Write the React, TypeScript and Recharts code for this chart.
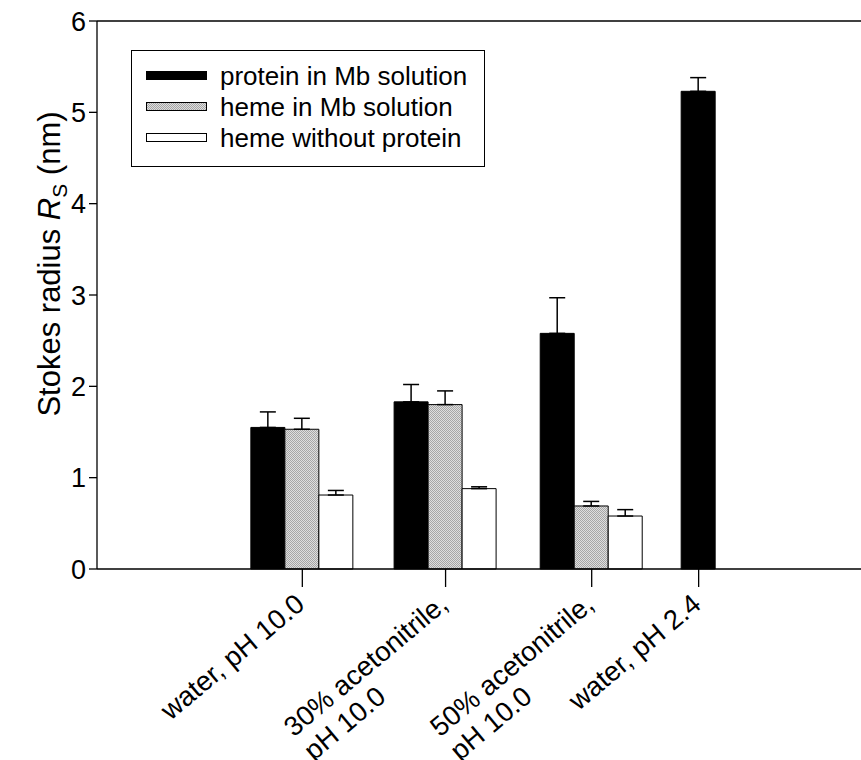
import React from "react";
import { BarChart, Bar, XAxis, YAxis, ErrorBar, Legend, ReferenceLine } from "recharts";

const categories = ["water, pH 10.0", "30% acetonitrile,\npH 10.0", "50% acetonitrile,\npH 10.0", "water, pH 2.4"];
// where each group sits along the x axis
const groupPos = [2.15, 3.65, 5.18, 6.3];

const protein = [1.55, 1.83, 2.58, null];
const proteinErr = [0.17, 0.19, 0.39, null];
const proteinAcid = [null, null, null, 5.23];
const proteinAcidErr = [null, null, null, 0.15];
const hemeMb = [1.53, 1.8, 0.69, null];
const hemeMbErr = [0.12, 0.15, 0.05, null];
const hemeFree = [0.81, 0.88, 0.58, null];
const hemeFreeErr = [0.05, 0.02, 0.07, null];

const yTicks = [0, 1, 2, 3, 4, 5, 6];

const legendKeys = ["protein", "hemeMb", "hemeFree"];
const seriesNames: Record<string, string> = {
  protein: "protein in Mb solution",
  hemeMb: "heme in Mb solution",
  hemeFree: "heme without protein",
};

const data = categories.map((c, i) => ({
  name: c,
  pos: groupPos[i],
  protein: protein[i],
  proteinErr: proteinErr[i] == null ? null : [0, proteinErr[i]],
  proteinAcid: proteinAcid[i],
  proteinAcidErr: proteinAcidErr[i] == null ? null : [0, proteinAcidErr[i]],
  hemeMb: hemeMb[i],
  hemeMbErr: hemeMbErr[i] == null ? null : [0, hemeMbErr[i]],
  hemeFree: hemeFree[i],
  hemeFreeErr: hemeFreeErr[i] == null ? null : [0, hemeFreeErr[i]],
}));

const FONT = "'Liberation Sans', Arial, sans-serif";
const XFS = 27.5;

let ctx: CanvasRenderingContext2D | null = null;
const textWidth = (s: string, size: number) => {
  if (!ctx) ctx = document.createElement("canvas").getContext("2d");
  if (!ctx) return s.length * size * 0.5;
  ctx.font = `${size}px 'Liberation Sans', Arial, sans-serif`;
  return ctx.measureText(s).width;
};

const Stipple = ({ id }: { id: string }) => (
  <pattern id={id} width="2" height="2" patternUnits="userSpaceOnUse">
    <rect width="2" height="2" fill="#dedede" />
    <rect x="0" y="0" width="1" height="1" fill="#a6a6a6" />
    <rect x="1" y="1" width="1" height="1" fill="#a6a6a6" />
  </pattern>
);

// rotated, left-aligned multi-line labels; first line ends under the tick
const XTick = (props: any) => {
  const { x, y, payload } = props;
  const idx = groupPos.indexOf(payload.value);
  const lines = (categories[idx] || "").split("\n");
  const w = textWidth(lines[0], XFS);
  return (
    <g transform={`translate(${x + 4},${y + 18}) rotate(-40)`}>
      {lines.map((l, i) => (
        <text key={i} x={-w} y={i * 31} fontSize={XFS} fontFamily={FONT} fill="#000">
          {l}
        </text>
      ))}
    </g>
  );
};

const swatch = (key: string) => {
  if (key === "protein") return <rect x={0.5} y={0.5} width={60} height={8} fill="#000" stroke="#000" />;
  if (key === "hemeMb")
    return (
      <>
        <defs>
          <Stipple id="stippleLegend" />
        </defs>
        <rect x={0.5} y={0.5} width={60} height={8} fill="url(#stippleLegend)" stroke="#000" />
      </>
    );
  return <rect x={0.5} y={0.5} width={60} height={8} fill="#fff" stroke="#000" />;
};

const LegendBox = () => (
  <div
    style={{
      boxSizing: "border-box",
      width: 354,
      height: 117,
      border: "1px solid #000",
      background: "#fff",
      padding: "9px 0 0 14px",
      fontFamily: FONT,
      fontSize: 26,
      lineHeight: 1,
    }}
  >
    {legendKeys.map((k) => (
      <div key={k} style={{ display: "flex", alignItems: "center", height: 31 }}>
        <svg width={61} height={9} style={{ marginRight: 13, flex: "none" }}>
          {swatch(k)}
        </svg>
        <span style={{ whiteSpace: "nowrap" }}>{seriesNames[k]}</span>
      </div>
    ))}
  </div>
);

const YLabel = () => (
  <text transform="translate(60,264) rotate(-90)" textAnchor="middle" fontSize={31} fontFamily={FONT} fill="#000">
    Stokes radius <tspan fontStyle="italic">R</tspan>
    <tspan fontSize={21} dy={7}>S</tspan>
    <tspan dy={-7}> (nm)</tspan>
  </text>
);

export default function App() {
  return (
    <div style={{ position: "absolute", left: 0, top: 0, width: 861, height: 760, background: "#fff", overflow: "hidden" }}>
      <BarChart width={861} height={760} data={data} margin={{ top: 21, right: 0, bottom: 0, left: 0 }} barGap={0}>
        <defs>
          <Stipple id="stipple" />
        </defs>
        <XAxis
          dataKey="pos"
          type="number"
          domain={[0, 8]}
          ticks={groupPos}
          interval={0}
          height={191}
          tickSize={18}
          tick={<XTick />}
          axisLine={{ stroke: "#000", strokeWidth: 1.3 }}
          tickLine={{ stroke: "#000", strokeWidth: 1.3 }}
        />
        <XAxis xAxisId="acid" dataKey="pos" type="number" domain={[0, 8]} hide />
        <YAxis
          domain={[0, 6]}
          ticks={yTicks}
          width={97}
          tickSize={8}
          tickMargin={3}
          tick={{ fill: "#000", fontSize: 27, fontFamily: FONT }}
          axisLine={{ stroke: "#000", strokeWidth: 1.3 }}
          tickLine={{ stroke: "#000", strokeWidth: 1.3 }}
          label={{ content: () => <YLabel /> }}
        />
        <ReferenceLine y={6} stroke="#000" strokeWidth={1.3} />
        <Legend
          layout="vertical"
          align="center"
          verticalAlign="middle"
          content={<LegendBox />}
          wrapperStyle={{ position: "absolute", left: 131, top: 50, width: "auto", height: "auto" }}
        />
        <Bar dataKey="protein" name={seriesNames.protein} fill="#000" stroke="#000" barSize={34} isAnimationActive={false}>
          <ErrorBar dataKey="proteinErr" width={8} stroke="#000" strokeWidth={1.5} direction="y" />
        </Bar>
        <Bar dataKey="hemeMb" name={seriesNames.hemeMb} fill="url(#stipple)" stroke="#000" barSize={34} isAnimationActive={false}>
          <ErrorBar dataKey="hemeMbErr" width={8} stroke="#000" strokeWidth={1.5} direction="y" />
        </Bar>
        <Bar dataKey="hemeFree" name={seriesNames.hemeFree} fill="#fff" stroke="#000" barSize={34} isAnimationActive={false}>
          <ErrorBar dataKey="hemeFreeErr" width={8} stroke="#000" strokeWidth={1.5} direction="y" />
        </Bar>
        <Bar dataKey="proteinAcid" xAxisId="acid" fill="#000" stroke="#000" barSize={34} legendType="none" isAnimationActive={false}>
          <ErrorBar dataKey="proteinAcidErr" width={8} stroke="#000" strokeWidth={1.5} direction="y" />
        </Bar>
      </BarChart>
    </div>
  );
}
